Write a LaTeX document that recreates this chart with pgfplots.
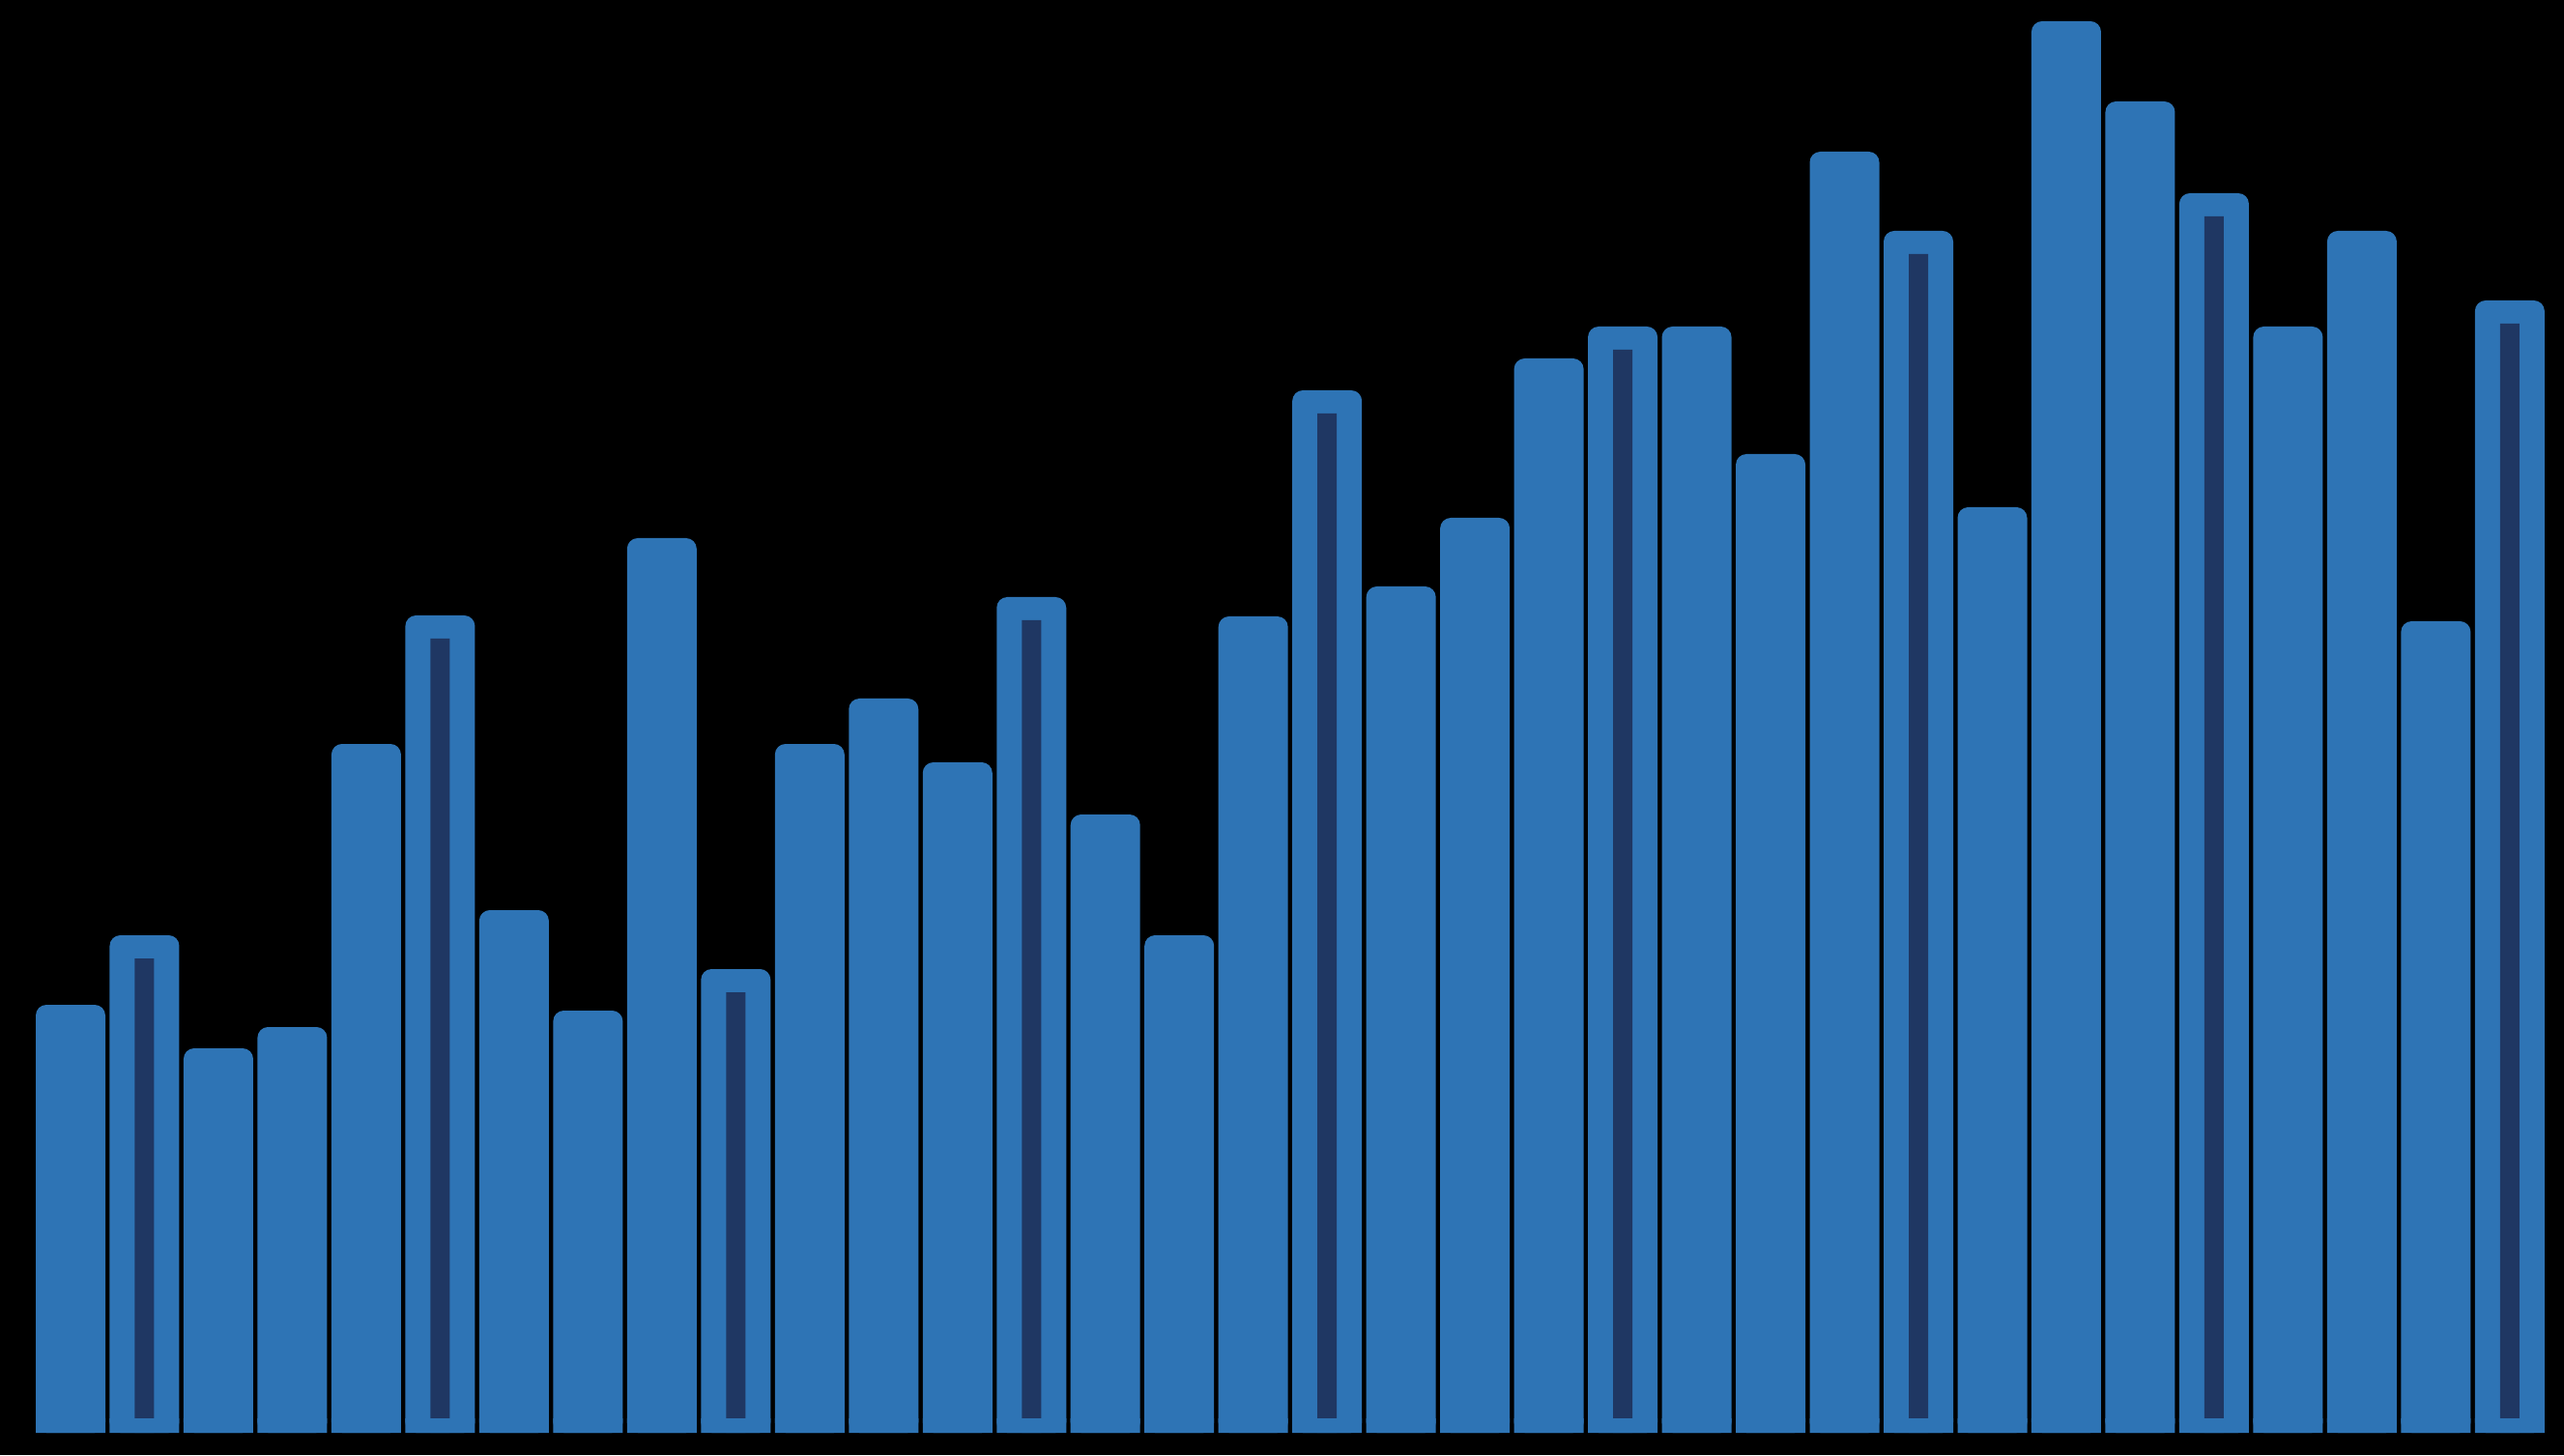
\documentclass[border=0pt]{standalone}
\usepackage{pgfplots}
\pgfplotsset{compat=1.18}
\definecolor{barblue}{RGB}{46,116,181}
\definecolor{barnavy}{RGB}{31,55,99}
\begin{document}
\begin{tikzpicture}
\begin{axis}[
  scale only axis,
  width=265.3mm, height=150.6mm,
  xmin=-0.9545, xmax=33.7344,
  ymin=-23, ymax=1483,
  axis line style={draw=none},
  ticks=none,
  axis background/.style={fill=black},
  ybar, bar width=7.2mm,
]
% all bars (values in pixel units above baseline)
\addplot[fill=barblue, draw=none, bar shift=0pt, rounded corners=1.1mm] coordinates {
(0,443) (1,515) (2,398) (3,420) (4,713) (5,846) (6,541) (7,437) (8,926) (9,480)
(10,713) (11,760) (12,694) (13,865) (14,640) (15,515) (16,845) (17,1079) (18,876) (19,947)
(20,1112) (21,1145) (22,1145) (23,1013) (24,1326) (25,1244) (26,958) (27,1461) (28,1378) (29,1283)
(30,1145) (31,1244) (32,840) (33,1172)
};
% inner dark core of highlighted bars
\addplot[fill=barnavy, draw=none, bar shift=0pt, bar width=2.0mm] coordinates {
(1,491) (5,822) (9,456) (13,841) (17,1055) (21,1121) (25,1220) (29,1259) (33,1148)
};
% square base strip
\addplot[fill=barblue, draw=none, bar shift=0pt] coordinates {
(0,15) (1,15) (2,15) (3,15) (4,15) (5,15) (6,15) (7,15) (8,15) (9,15)
(10,15) (11,15) (12,15) (13,15) (14,15) (15,15) (16,15) (17,15) (18,15) (19,15)
(20,15) (21,15) (22,15) (23,15) (24,15) (25,15) (26,15) (27,15) (28,15) (29,15)
(30,15) (31,15) (32,15) (33,15)
};
\end{axis}
\end{tikzpicture}
\end{document}
